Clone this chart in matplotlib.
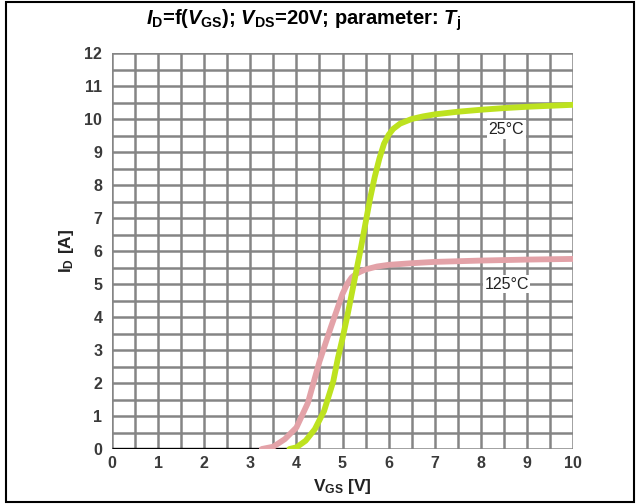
import matplotlib
matplotlib.use("Agg")
import matplotlib.pyplot as plt
from matplotlib.patches import Rectangle
import numpy as np

# data
vgs_25 = [3.85, 4.0, 4.2, 4.4, 4.6, 4.8, 4.9, 5.0, 5.1, 5.2, 5.3, 5.4, 5.5, 5.6, 5.7, 5.8,
          5.9, 6.0, 6.1, 6.25, 6.5, 6.75, 7.0, 7.5, 8.0, 8.5, 9.0, 9.5, 10.0]
id_25 = [0.0, 0.05, 0.25, 0.6, 1.15, 2.05, 2.75, 3.35, 4.0, 4.7, 5.4, 6.1, 6.85, 7.6, 8.25, 8.8,
         9.25, 9.52, 9.7, 9.86, 10.0, 10.08, 10.14, 10.22, 10.28, 10.33, 10.37, 10.4, 10.43]

vgs_125 = [3.25, 3.5, 3.75, 4.0, 4.25, 4.5, 4.75, 5.0, 5.1, 5.2, 5.3, 5.4, 5.5, 5.75, 6.0,
           6.5, 7.0, 7.5, 8.0, 9.0, 10.0]
id_125 = [0.0, 0.07, 0.3, 0.65, 1.4, 2.65, 3.7, 4.7, 5.0, 5.2, 5.31, 5.38, 5.44, 5.53, 5.58,
          5.63, 5.67, 5.69, 5.71, 5.74, 5.76]

vgs_off = [0.0, 3.9]
id_off = [0.0, 0.0]

x_ticks = list(range(0, 11))
y_ticks = list(range(0, 13))

plt.rcParams["font.family"] = ["Liberation Sans", "DejaVu Sans"]
plt.rcParams["mathtext.fontset"] = "custom"
plt.rcParams["mathtext.rm"] = "Liberation Sans:bold"
plt.rcParams["mathtext.it"] = "Liberation Sans:bold:italic"
plt.rcParams["mathtext.bf"] = "Liberation Sans:bold"

fig = plt.figure(figsize=(6.41, 5.04), dpi=100)
ax = fig.add_axes([112 / 641, 55 / 504, 461 / 641, 396 / 504])

# grid every 0.5
for v in np.arange(0, 10.01, 0.5):
    ax.axvline(v, color="#858585", lw=1.8, zorder=1)
for v in np.arange(0, 12.01, 0.5):
    ax.axhline(v, color="#858585", lw=1.8, zorder=1)

ax.plot(vgs_off, id_off, color="black", lw=2.4, zorder=3, solid_capstyle="butt")
ax.plot(vgs_125, id_125, color="#e3a2a8", lw=4.2, zorder=4, solid_capstyle="round")
ax.plot(vgs_25, id_25, color="#bde21f", lw=4.2, zorder=5, solid_capstyle="round")

ax.text(8.55, 9.68, "25°C", ha="center", va="center", fontsize=11.5, color="#222222",
        bbox=dict(facecolor="white", edgecolor="none", pad=1.2), zorder=6)
ax.text(8.56, 4.99, "125°C", ha="center", va="center", fontsize=11.5, color="#222222",
        bbox=dict(facecolor="white", edgecolor="none", pad=1.2), zorder=6)

ax.set_xlim(0, 10)
ax.set_ylim(0, 12)
ax.set_xticks(x_ticks)
ax.set_yticks(y_ticks)
ax.tick_params(length=0, labelsize=11.5, labelcolor="#3a3a3a")
ax.tick_params(axis="x", pad=5)
ax.tick_params(axis="y", pad=7)
for lab in ax.get_xticklabels() + ax.get_yticklabels():
    lab.set_fontweight("bold")
for s in ax.spines.values():
    s.set_visible(False)

ax.set_xlabel(r"$\mathrm{V_{GS}}$ [V]", fontsize=12.5, fontweight="bold", color="#222222", labelpad=4)
ax.set_ylabel(r"$\mathrm{I_D}$ [A]", fontsize=12.5, fontweight="bold", color="#222222", labelpad=6)

fig.text(0.473, 0.96, r"$\mathit{I}_\mathrm{D}$=f($\mathit{V}_\mathrm{GS}$); $\mathit{V}_\mathrm{DS}$=20V; parameter: $\mathit{T}_\mathrm{j}$",
         ha="center", va="center", fontsize=14.5, fontweight="bold", color="black")

# outer frame
fig.patches.append(Rectangle((6 / 641, 2 / 504), 628 / 641, 500 / 504, transform=fig.transFigure,
                             fill=False, edgecolor="black", lw=1.5))

fig.savefig("out.png", dpi=100)
